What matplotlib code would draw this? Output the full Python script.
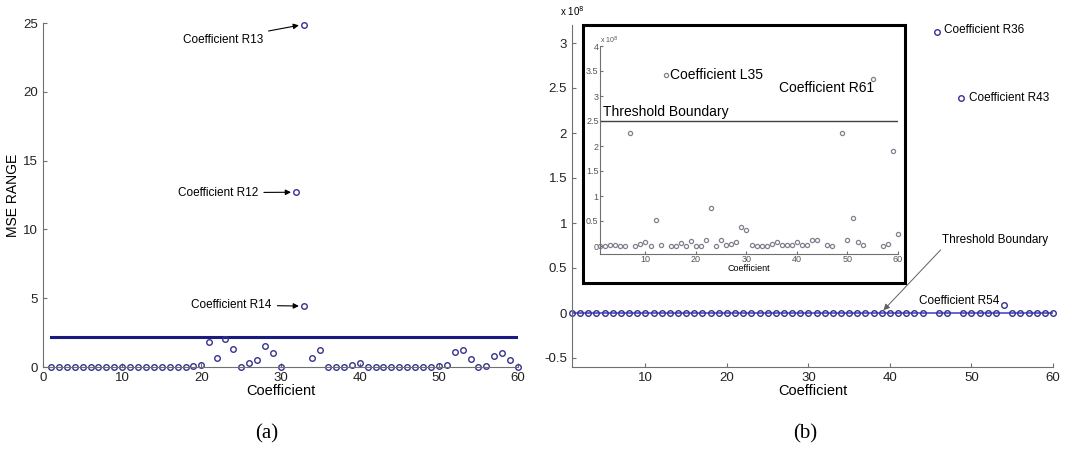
import numpy as np
import matplotlib.pyplot as plt
from matplotlib.patches import Rectangle

plt.rcParams['font.family'] = ['Liberation Sans', 'DejaVu Sans']

nan = np.nan
coef = np.arange(1, 61)

# (a) MSE range, the three large ones are drawn separately
mse_a = [0.0] * 18 + [0.1, 0.12, 1.83, 0.66, 2.07, 1.29, 0.0, 0.32, 0.49, 1.51, 1.05, 0.0,
                      nan, nan, nan, 0.66, 1.27, 0.0, 0.0, 0.0, 0.12, 0.27] + [0.0] * 9 + \
        [0.05, 0.15, 1.07, 1.2, 0.61, 0.0, 0.07, 0.78, 1.0, 0.54, 0.0]
out_a_x = [32, 33, 33]
out_a_y = [12.7, 24.85, 4.43]
out_a_names = ['Coefficient R12', 'Coefficient R13', 'Coefficient R14']
threshold_a = 2.2

# (b) main panel (x 10^8)
mse_b = [0.0] * 60
for i in (45, 48, 54):
    mse_b[i - 1] = nan
out_b_x = [45.8, 48.7, 54]
out_b_y = [3.12, 2.39, 0.09]
threshold_b = 0.0

# (b) inset (x 10^8)
mse_inset = [0.01, 0.01, 0.02, 0.02, 0.01, 0.0, 2.27, 0.0, 0.05, 0.08,
             0.0, 0.52, 0.02, 3.42, 0.0, 0.0, 0.06, 0.0, 0.1, 0.0,
             0.0, 0.12, 0.77, 0.0, 0.13, 0.02, 0.05, 0.08, 0.38, 0.32,
             0.02, 0.0, 0.0, 0.0, 0.05, 0.08, 0.03, 0.02, 0.02, 0.08,
             0.03, 0.02, 0.12, 0.12, nan, 0.03, 0.01, nan, 2.27, 0.12,
             0.57, 0.08, 0.02, nan, 3.35, nan, 0.01, 0.04, 1.9, 0.24]
threshold_inset = 2.5

blue = '#33338f'
gray_axis = '#707070'

fig = plt.figure(figsize=(10.7, 4.49), dpi=100)


def style(ax, fs=9.5):
    for s in ('top', 'right'):
        ax.spines[s].set_visible(False)
    for s in ('left', 'bottom'):
        ax.spines[s].set_color(gray_axis)
    ax.tick_params(direction='in', length=3, colors=gray_axis, labelcolor='#222222', labelsize=fs)


# ---- panel (a)
ax1 = fig.add_axes([43 / 1070, 82 / 449, 475 / 1070, 344 / 449])
style(ax1)
ax1.plot([1, 60], [threshold_a, threshold_a], color='#1a1a80', lw=2.2, zorder=1)
ax1.plot(coef, mse_a, 'o', ms=4, mfc='none', mec=blue, mew=1, clip_on=False)
ax1.plot(out_a_x, out_a_y, 'o', ms=4, mfc='none', mec=blue, mew=1, clip_on=False)
ax1.set_xlim(0, 60)
ax1.set_ylim(0, 25)
ax1.set_xticks(range(0, 61, 10))
ax1.set_yticks(range(0, 26, 5))
ax1.set_xlabel('Coefficient', fontsize=10.5, labelpad=0)
ax1.set_ylabel('MSE RANGE', fontsize=10, labelpad=2)

text_pos_a = [(27.2, 12.67), (27.8, 23.8), (28.9, 4.5)]
for (tx, ty), x, y, name in zip(text_pos_a, out_a_x, out_a_y, out_a_names):
    ax1.annotate(name, xy=(x - 0.5, y), xytext=(tx, ty), ha='right', va='center', fontsize=8.5,
                 arrowprops=dict(arrowstyle='-|>', color='k', lw=0.8, shrinkA=2, shrinkB=1,
                                 mutation_scale=8))

# ---- panel (b)
ax2 = fig.add_axes([572 / 1070, 82 / 449, 481 / 1070, 342 / 449])
style(ax2)
ax2.plot([1, 60], [threshold_b, threshold_b], color='#4a4ad0', lw=1.2, zorder=1)
ax2.plot(coef, mse_b, 'o', ms=4, mfc='none', mec=blue, mew=1, clip_on=False)
ax2.plot(out_b_x, out_b_y, 'o', ms=4, mfc='none', mec=blue, mew=1, clip_on=False)
ax2.set_xlim(1, 60)
ax2.set_ylim(-0.6, 3.2)
ax2.set_xticks(range(10, 61, 10))
ax2.set_yticks([-0.5, 0, 0.5, 1, 1.5, 2, 2.5, 3])
ax2.set_yticklabels(['-0.5', '0', '0.5', '1', '1.5', '2', '2.5', '3'])
ax2.set_xlabel('Coefficient', fontsize=10.5, labelpad=0)
ax2.text(0, 1.02, 'x 10$^8$', transform=ax2.transAxes, ha='center', va='bottom', fontsize=7)

ax2.text(46.65, 3.14, 'Coefficient R36', ha='left', va='center', fontsize=8.5)
ax2.text(49.7, 2.39, 'Coefficient R43', ha='left', va='center', fontsize=8.5)
ax2.text(53.4, 0.13, 'Coefficient R54', ha='right', va='center', fontsize=8.5)
ax2.annotate('Threshold Boundary', xy=(39.2, 0.03), xytext=(46.4, 0.81), ha='left', va='center',
             fontsize=8.5,
             arrowprops=dict(arrowstyle='-|>', color='#606060', lw=0.7, shrinkA=1, shrinkB=0,
                             relpos=(0.02, 0.0), mutation_scale=9))

# inset border
fig.patches.append(Rectangle((583 / 1070, (449 - 283) / 449), 322 / 1070, 258 / 449,
                             transform=fig.transFigure, fill=True, facecolor='white',
                             edgecolor='black', lw=2.2, zorder=3))

ax3 = fig.add_axes([600 / 1070, 195 / 449, 298 / 1070, 208 / 449], zorder=4)
ax3.patch.set_alpha(0)
style(ax3, fs=6.5)
ax3.tick_params(length=2, labelcolor='#555555', pad=1)
ax3.plot([1, 60], [threshold_inset, threshold_inset], color='#404040', lw=1)
ax3.plot(coef, mse_inset, 'o', ms=3, mfc='none', mec='#80808f', mew=0.9, clip_on=False)
ax3.set_xlim(1, 60)
ax3.set_ylim(-0.16, 4.0)
ax3.set_xticks(range(10, 61, 10))
ax3.set_yticks([0, 0.5, 1, 1.5, 2, 2.5, 3, 3.5, 4])
ax3.set_yticklabels(['0', '0.5', '1', '1.5', '2', '2.5', '3', '3.5', '4'])
ax3.set_xlabel('Coefficient', fontsize=6.5, labelpad=0)
ax3.text(0.0, 1.0, 'x 10$^8$', transform=ax3.transAxes, ha='left', va='bottom', fontsize=5,
         color='#555555')
ax3.text(14.9, 3.42, 'Coefficient L35', ha='left', va='center', fontsize=10)
ax3.text(55.2, 3.16, 'Coefficient R61', ha='right', va='center', fontsize=10)
ax3.text(1.5, 2.68, 'Threshold Boundary', ha='left', va='center', fontsize=10)

fig.text(267 / 1070, 1 - 434 / 449, '(a)', ha='center', va='center', fontsize=15,
         family=['Liberation Serif', 'DejaVu Serif'])
fig.text(805 / 1070, 1 - 434 / 449, '(b)', ha='center', va='center', fontsize=15,
         family=['Liberation Serif', 'DejaVu Serif'])

fig.savefig('out.png', dpi=100)
